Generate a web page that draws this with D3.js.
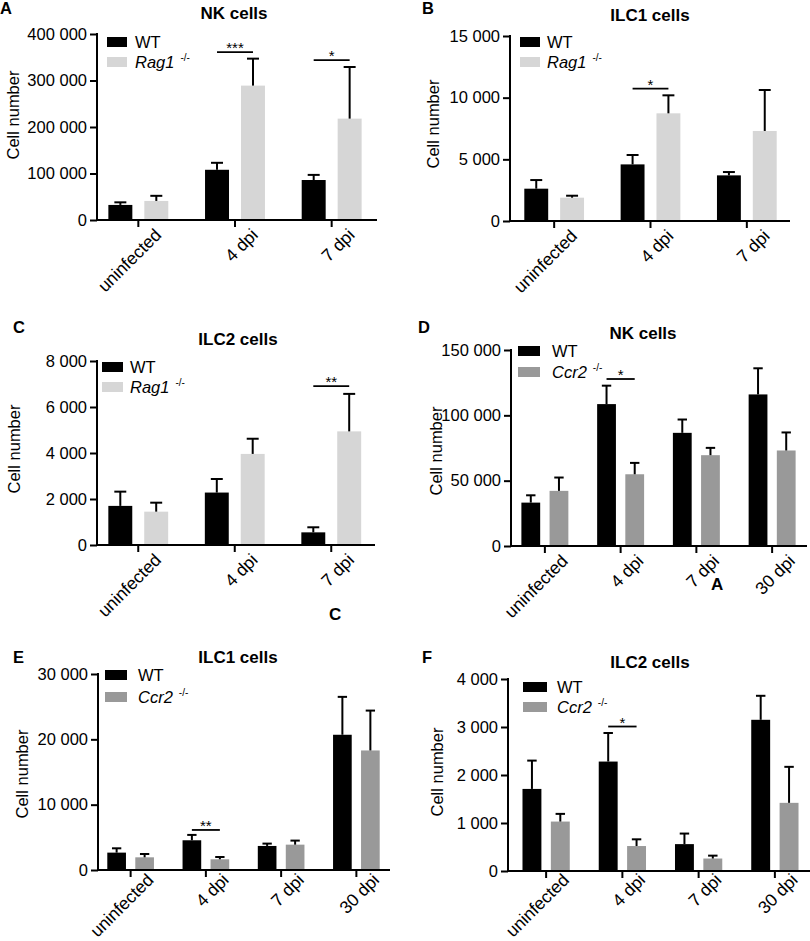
<!DOCTYPE html>
<html>
<head>
<meta charset="utf-8">
<script src="https://cdn.jsdelivr.net/npm/d3@7"></script>
<style>
  html, body { margin: 0; padding: 0; background: #fff; }
  svg { display: block; }
  text { font-family: "Liberation Sans", Arial, Helvetica, sans-serif; fill: #000; }
</style>
</head>
<body>
<svg id="chart" width="810" height="941"></svg>
<script>
// ---------------- DATA ----------------
const categories3 = ["uninfected", "4 dpi", "7 dpi"];
const categories4 = ["uninfected", "4 dpi", "7 dpi", "30 dpi"];
const seriesRag = ["WT", "Rag1"];
const seriesCcr2 = ["WT", "Ccr2"];
const superscript = "-/-";

// Panel A: NK cells, WT vs Rag1-/-
const nkRagWT = [32400, 108000, 86000];
const nkRagWTErr = [5600, 15000, 11000];
const nkRagKO = [41000, 289000, 218000];
const nkRagKOErr = [11000, 58000, 111000];
// Panel B: ILC1 cells, WT vs Rag1-/-
const ilc1RagWT = [2620, 4590, 3700];
const ilc1RagWTErr = [700, 760, 270];
const ilc1RagKO = [1890, 8730, 7300];
const ilc1RagKOErr = [160, 1460, 3320];
// Panel C: ILC2 cells, WT vs Rag1-/-
const ilc2RagWT = [1700, 2280, 550];
const ilc2RagWTErr = [620, 590, 220];
const ilc2RagKO = [1450, 3960, 4940];
const ilc2RagKOErr = [390, 660, 1630];
// Panel D: NK cells, WT vs Ccr2-/-
const nkCcrWT = [33200, 108600, 86600, 116000];
const nkCcrWTErr = [5600, 14100, 10200, 20000];
const nkCcrKO = [42200, 54900, 69500, 73100];
const nkCcrKOErr = [10200, 8700, 5600, 13800];
// Panel E: ILC1 cells, WT vs Ccr2-/-
const ilc1CcrWT = [2660, 4550, 3680, 20700];
const ilc1CcrWTErr = [660, 820, 360, 5800];
const ilc1CcrKO = [1940, 1640, 3880, 18300];
const ilc1CcrKOErr = [510, 350, 620, 6100];
// Panel F: ILC2 cells, WT vs Ccr2-/-
const ilc2CcrWT = [1710, 2280, 560, 3150];
const ilc2CcrWTErr = [590, 595, 220, 500];
const ilc2CcrKO = [1030, 520, 260, 1420];
const ilc2CcrKOErr = [160, 140, 60, 750];

// y-axis tick values
const ticksA = [0, 100000, 200000, 300000, 400000];
const ticksB = [0, 5000, 10000, 15000];
const ticksC = [0, 2000, 4000, 6000, 8000];
const ticksD = [0, 50000, 100000, 150000];
const ticksE = [0, 10000, 20000, 30000];
const ticksF = [0, 1000, 2000, 3000, 4000];

// significance brackets: [category, height, label]
const sigA = [["4 dpi", 361000, "***"], ["7 dpi", 344000, "*"]];
const sigB = [["4 dpi", 10730, "*"]];
const sigC = [["7 dpi", 6910, "**"]];
const sigD = [["4 dpi", 127800, "*"]];
const sigE = [["4 dpi", 6130, "**"]];
const sigF = [["4 dpi", 3010, "*"]];

const titles = ["NK cells", "ILC1 cells", "ILC2 cells", "NK cells", "ILC1 cells", "ILC2 cells"];
const letters = ["A", "B", "C", "D", "E", "F"];
const yLabel = "Cell number";

// ---------------- STYLE / LAYOUT ----------------
const colWT = "#000000";
const colRag = "#d6d6d6";
const colCcr = "#999999";
const FONT = 16.5;
const XFONT = 17.5;

const fmt = d3.formatLocale({ decimal: ".", thousands: " ", grouping: [3], currency: ["", ""] }).format(",d");

const panels = [
  { letter: letters[0], lp: [0, 13.5], title: titles[0], tx: 234, ty: 19,
    axisX: 97, xEnd: 377, yTop: 34, yBottom: 220, band: [90, 380], ymax: 400000, ticks: ticksA,
    ylab: [19, 115], cats: categories3, series: seriesRag, colors: [colWT, colRag], xlab: [24, 16],
    wt: nkRagWT, wtErr: nkRagWTErr, ko: nkRagKO, koErr: nkRagKOErr, sig: sigA,
    leg: { rx: 107, ry: 37, rw: 20, gap: 20, tx: 135 } },
  { letter: letters[1], lp: [422, 13.5], title: titles[1], tx: 650, ty: 20.5,
    axisX: 510, xEnd: 790, yTop: 36, yBottom: 221, band: [506, 795], ymax: 15000, ticks: ticksB,
    ylab: [438.5, 124], cats: categories3, series: seriesRag, colors: [colWT, colRag], xlab: [24, 16],
    wt: ilc1RagWT, wtErr: ilc1RagWTErr, ko: ilc1RagKO, koErr: ilc1RagKOErr, sig: sigB,
    leg: { rx: 520, ry: 37, rw: 20, gap: 20, tx: 547 } },
  { letter: letters[2], lp: [13, 333], title: titles[2], tx: 238, ty: 345,
    axisX: 97, xEnd: 375, yTop: 361, yBottom: 545, band: [90, 379.5], ymax: 8000, ticks: ticksC,
    ylab: [20, 449], cats: categories3, series: seriesRag, colors: [colWT, colRag], xlab: [24, 16],
    wt: ilc2RagWT, wtErr: ilc2RagWTErr, ko: ilc2RagKO, koErr: ilc2RagKOErr, sig: sigC,
    leg: { rx: 102, ry: 362, rw: 21, gap: 20, tx: 130 } },
  { letter: letters[3], lp: [418, 333], title: titles[3], tx: 643, ty: 339,
    axisX: 511, xEnd: 807, yTop: 350, yBottom: 546, band: [507, 810], ymax: 150000, ticks: ticksD,
    ylab: [442, 451], cats: categories4, series: seriesCcr2, colors: [colWT, colCcr], xlab: [24, 16],
    wt: nkCcrWT, wtErr: nkCcrWTErr, ko: nkCcrKO, koErr: nkCcrKOErr, sig: sigD,
    leg: { rx: 518, ry: 346, rw: 22, gap: 21, tx: 552 } },
  { letter: letters[4], lp: [13, 663], title: titles[4], tx: 238, ty: 663,
    axisX: 98, xEnd: 390, yTop: 674, yBottom: 870, band: [93, 394], ymax: 30000, ticks: ticksE,
    ylab: [28, 774], cats: categories4, series: seriesCcr2, colors: [colWT, colCcr], xlab: [24, 11],
    wt: ilc1CcrWT, wtErr: ilc1CcrWTErr, ko: ilc1CcrKO, koErr: ilc1CcrKOErr, sig: sigE,
    leg: { rx: 105, ry: 670, rw: 22, gap: 22, tx: 138 } },
  { letter: letters[5], lp: [422, 663], title: titles[5], tx: 650, ty: 668,
    axisX: 508, xEnd: 810, yTop: 679, yBottom: 871, band: [508, 813], ymax: 4000, ticks: ticksF,
    ylab: [443, 772], cats: categories4, series: seriesCcr2, colors: [colWT, colCcr], xlab: [24, 10],
    wt: ilc2CcrWT, wtErr: ilc2CcrWTErr, ko: ilc2CcrKO, koErr: ilc2CcrKOErr, sig: sigF,
    leg: { rx: 523, ry: 682, rw: 24, gap: 20, tx: 557 } }
];

const svg = d3.select("#chart");
svg.append("rect").attr("width", 810).attr("height", 941).attr("fill", "#fff");

function drawPanel(p) {
  const g = svg.append("g");
  const y = d3.scaleLinear().domain([0, p.ymax]).range([p.yBottom, p.yTop]);
  const x0 = d3.scaleBand().domain(p.cats).range(p.band);
  const step = x0.step();
  const x1 = d3.scaleBand().domain(p.series).range([0.19 * step, 0.81 * step]).paddingInner(1 / 3);
  const bw = x1.bandwidth();

  const rows = [];
  p.cats.forEach((c, i) => {
    rows.push({ cat: c, s: p.series[0], v: p.wt[i], e: p.wtErr[i], col: p.colors[0] });
    rows.push({ cat: c, s: p.series[1], v: p.ko[i], e: p.koErr[i], col: p.colors[1] });
  });

  // bars
  g.selectAll("rect.bar").data(rows).join("rect")
    .attr("class", "bar")
    .attr("x", d => x0(d.cat) + x1(d.s))
    .attr("width", bw)
    .attr("y", d => y(d.v))
    .attr("height", d => y(0) - y(d.v))
    .attr("fill", d => d.col);

  // error bars (upper)
  const eg = g.selectAll("g.err").data(rows).join("g").attr("class", "err")
    .attr("stroke", "#000").attr("stroke-width", 2);
  eg.append("line")
    .attr("x1", d => x0(d.cat) + x1(d.s) + bw / 2)
    .attr("x2", d => x0(d.cat) + x1(d.s) + bw / 2)
    .attr("y1", d => y(d.v))
    .attr("y2", d => y(d.v + d.e));
  eg.append("line")
    .attr("x1", d => x0(d.cat) + x1(d.s) + bw / 4)
    .attr("x2", d => x0(d.cat) + x1(d.s) + bw * 3 / 4)
    .attr("y1", d => y(d.v + d.e))
    .attr("y2", d => y(d.v + d.e));

  // y axis
  const ya = g.append("g").attr("transform", `translate(${p.axisX},0)`)
    .call(d3.axisLeft(y).tickValues(p.ticks).tickFormat(fmt).tickSize(7).tickSizeOuter(0).tickPadding(3));
  ya.select(".domain").attr("stroke-width", 2).attr("d", `M0,${p.yBottom + 1}V${p.yTop - 1}`);
  ya.selectAll(".tick line").attr("stroke-width", 2);
  ya.selectAll(".tick text").attr("font-size", FONT).attr("font-family", null).attr("fill", "#000");

  // x axis
  const xa = g.append("g").attr("transform", `translate(0,${p.yBottom})`)
    .call(d3.axisBottom(x0).tickSize(7).tickSizeOuter(0));
  xa.select(".domain").remove();
  xa.append("line").attr("x1", p.axisX - 1).attr("x2", p.xEnd).attr("y1", 0).attr("y2", 0)
    .attr("stroke", "#000").attr("stroke-width", 2);
  xa.selectAll(".tick line").attr("stroke-width", 2);
  xa.selectAll(".tick text")
    .attr("font-size", XFONT).attr("font-family", null).attr("fill", "#000")
    .attr("text-anchor", "end").attr("x", 0).attr("y", 0).attr("dy", 0)
    .attr("transform", `translate(${p.xlab[0]},${p.xlab[1]}) rotate(-45)`);

  // y label
  g.append("text").attr("transform", `translate(${p.ylab[0]},${p.ylab[1]}) rotate(-90)`)
    .attr("text-anchor", "middle").attr("font-size", FONT).text(yLabel);

  // title
  g.append("text").attr("x", p.tx).attr("y", p.ty).attr("text-anchor", "middle")
    .attr("font-weight", "bold").attr("font-size", 17).text(p.title);

  // panel letter
  g.append("text").attr("x", p.lp[0]).attr("y", p.lp[1])
    .attr("font-weight", "bold").attr("font-size", 16.5).text(p.letter);

  // significance
  p.sig.forEach(([cat, h, lab]) => {
    const xa1 = x0(cat) + x1(p.series[0]) + bw / 2;
    const xa2 = x0(cat) + x1(p.series[1]) + bw / 2;
    g.append("line").attr("x1", xa1).attr("x2", xa2).attr("y1", y(h)).attr("y2", y(h))
      .attr("stroke", "#000").attr("stroke-width", 1.8);
    g.append("text").attr("x", (xa1 + xa2) / 2).attr("y", y(h) + 1).attr("text-anchor", "middle")
      .attr("font-size", 15).text(lab);
  });

  // legend
  const L = p.leg;
  p.series.forEach((s, i) => {
    const yy = L.ry + i * L.gap;
    g.append("rect").attr("x", L.rx).attr("y", yy).attr("width", L.rw).attr("height", 10)
      .attr("fill", p.colors[i]);
    const t = g.append("text").attr("x", L.tx).attr("y", yy + 11).attr("font-size", FONT);
    if (i === 0) {
      t.text(s);
    } else {
      t.append("tspan").attr("font-style", "italic").text(s);
      t.append("tspan").attr("dx", 6).attr("dy", -7).attr("font-size", 10).text(superscript);
    }
  });
}

panels.forEach(drawPanel);

// stray panel letters present in the original figure
svg.append("text").attr("x", 329).attr("y", 620).attr("font-weight", "bold").attr("font-size", 17).text("C");
svg.append("text").attr("x", 711).attr("y", 590).attr("font-weight", "bold").attr("font-size", 17).text("A");
</script>
</body>
</html>
